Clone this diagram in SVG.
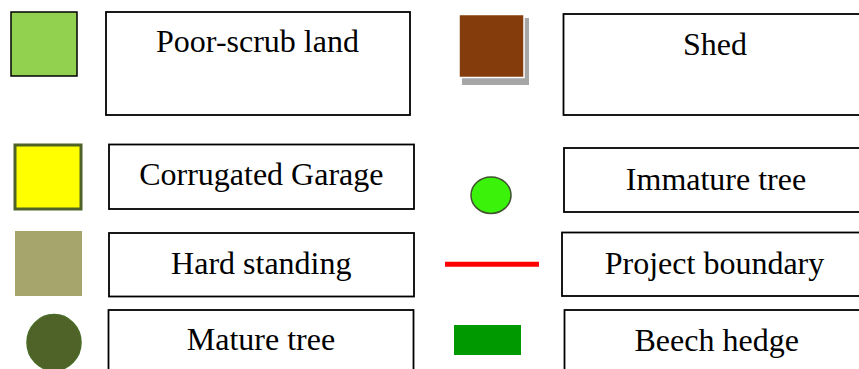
<svg xmlns="http://www.w3.org/2000/svg" width="859" height="369" viewBox="0 0 859 369">
<style>
.box{fill:#ffffff;stroke:#000000;stroke-width:1.8}
.lbl{font-family:"Liberation Serif","Times New Roman",serif;font-size:32px;fill:#000000;text-anchor:middle}
</style>
<rect width="859" height="369" fill="#ffffff"/>
<g id="poor-scrub">
<rect x="11" y="12" width="66" height="64" fill="#92d050" stroke="#000000" stroke-width="1.5"/>
<rect class="box" x="106" y="12" width="304" height="103"/>
<text class="lbl" x="257.5" y="52">Poor-scrub land</text>
</g>
<g id="shed">
<rect x="462" y="18" width="67" height="67" fill="#a6a6a6"/>
<rect x="459" y="14.5" width="65" height="63" fill="#843c0c" stroke="#ffffff" stroke-width="1.5"/>
<rect class="box" x="563.5" y="14" width="310" height="101"/>
<text class="lbl" x="715" y="55">Shed</text>
</g>
<g id="garage">
<rect x="15" y="145" width="66" height="64" fill="#ffff00" stroke="#4f6228" stroke-width="3"/>
<rect class="box" x="109" y="144.5" width="305" height="64.5"/>
<text class="lbl" x="261.3" y="184.5">Corrugated Garage</text>
</g>
<g id="immature-tree">
<ellipse cx="491" cy="195.2" rx="20" ry="18.3" fill="#3af20a" stroke="#3f4f2f" stroke-width="1.5"/>
<rect class="box" x="564" y="148" width="310" height="64"/>
<text class="lbl" x="716" y="189.5">Immature tree</text>
</g>
<g id="hard-standing">
<rect x="15" y="231" width="67" height="65" fill="#a6a56c"/>
<rect class="box" x="109" y="233" width="305" height="63.5"/>
<text class="lbl" x="261.3" y="273.5">Hard standing</text>
</g>
<g id="project-boundary">
<line x1="445" y1="264.3" x2="539" y2="264.3" stroke="#ff0000" stroke-width="5"/>
<rect class="box" x="562" y="232.5" width="310" height="63.5"/>
<text class="lbl" x="714.5" y="273.5">Project boundary</text>
</g>
<g id="mature-tree">
<ellipse cx="54" cy="342.5" rx="27" ry="28" fill="#4f6228" stroke="#4a6b26" stroke-width="1.5"/>
<rect class="box" x="108.5" y="310" width="305" height="80"/>
<text class="lbl" x="261" y="350">Mature tree</text>
</g>
<g id="beech-hedge">
<rect x="454" y="325" width="67" height="30" fill="#009900"/>
<rect class="box" x="564.5" y="310" width="310" height="80"/>
<text class="lbl" x="716.7" y="350.7">Beech hedge</text>
</g>
<g id="connectors"></g>
</svg>
